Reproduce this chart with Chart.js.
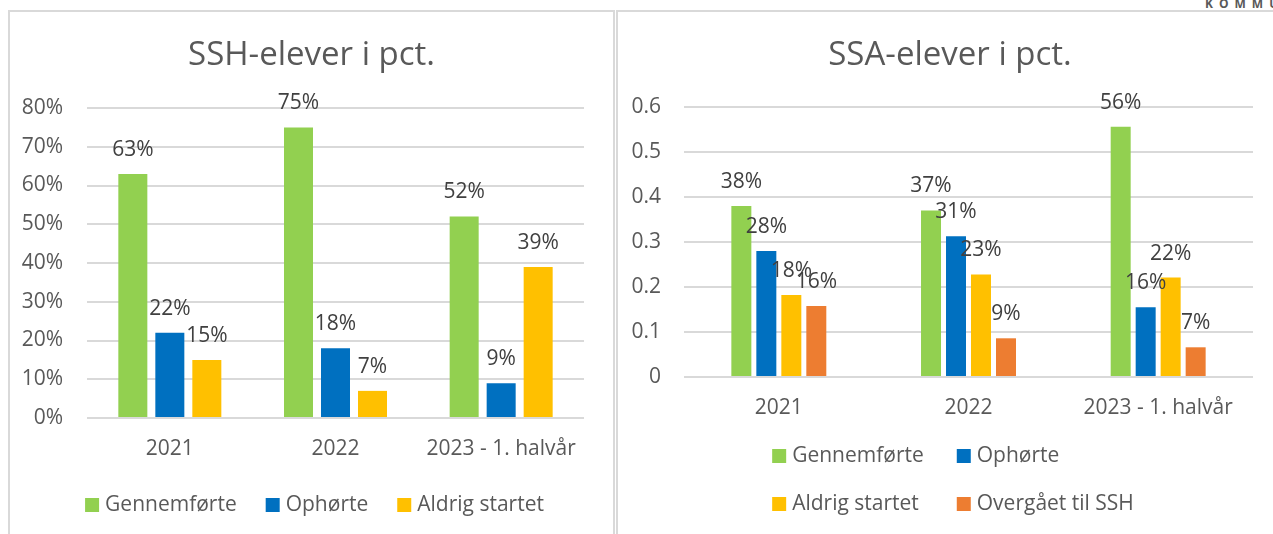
<!DOCTYPE html>
<html>
<head>
<meta charset="utf-8">
<script src="https://cdn.jsdelivr.net/npm/chart.js@4.4.0/dist/chart.umd.min.js"></script>
<style>
    html, body { margin: 0; padding: 0; background: #fff; width: 1273px; height: 534px; overflow: hidden; }
    .card { position: absolute; border: 2px solid #d9d9d9; overflow: hidden; background: #fff; }
    #card1 { left: 8px; top: 10px; width: 603px; height: 530px; }
    #card2 { left: 616px; top: 10px; width: 664px; height: 530px; border-right: none; }
    .logo { position: absolute; left: 1205px; top: -3px; font: bold 12px "Open Sans"; line-height: 13px; letter-spacing: 6px; color: #595959; white-space: nowrap; }
</style>
</head>
<body>
<div class="logo">KOMMU</div>
<div class="card" id="card1"><canvas id="canvas1" width="603" height="522"></canvas></div>
<div class="card" id="card2"><canvas id="canvas2" width="664" height="522"></canvas></div>
<script>
    // data
    const aCategories = ["2021", "2022", "2023 - 1. halvår"];

    // SSH (percent)
    const aSshGennemfoerte = [63, 75, 52];
    const aSshOphoerte = [22, 18, 9];
    const aSshAldrig = [15, 7, 39];
    const aSshTicks = [0, 10, 20, 30, 40, 50, 60, 70, 80];

    // SSA (fraction)
    const aSsaGennemfoerte = [0.38, 0.37, 0.556];
    const aSsaOphoerte = [0.28, 0.313, 0.155];
    const aSsaAldrig = [0.182, 0.228, 0.221];
    const aSsaOvergaaet = [0.158, 0.086, 0.066];
    const aSsaTicks = [0, 0.1, 0.2, 0.3, 0.4, 0.5, 0.6];

    const GREEN = "#92D050", BLUE = "#0070C0", YELLOW = "#FFC000", ORANGE = "#ED7D31";
    const TEXT = "#595959";
    const FONT = "'Open Sans'";
    const SIZE = 21;

    Chart.defaults.font.family = FONT;
    Chart.defaults.color = TEXT;

    // title centred on the whole card (Chart.js title would follow the padding)
    const cardTitle = {
        id: "cardTitle",
        afterDraw: function (chart, args, opts) {
            const ctx = chart.ctx;
            ctx.save();
            ctx.font = "33px " + FONT;
            ctx.fillStyle = TEXT;
            ctx.textAlign = "center";
            ctx.textBaseline = "middle";
            ctx.fillText(opts.text, chart.width / 2, opts.y);
            ctx.restore();
        }
    };

    // value labels above the bars
    const valueLabels = {
        id: "valueLabels",
        afterDatasetsDraw: function (chart, args, opts) {
            const ctx = chart.ctx;
            ctx.save();
            ctx.font = SIZE + "px " + FONT;
            ctx.fillStyle = "#404040";
            ctx.textAlign = "center";
            ctx.textBaseline = "middle";
            chart.data.datasets.forEach(function (ds, i) {
                chart.getDatasetMeta(i).data.forEach(function (bar, j) {
                    ctx.fillText(opts.format(ds.data[j]), bar.x, bar.y - 24);
                });
            });
            ctx.restore();
        }
    };

    // legend in rows / columns like Excel
    const gridLegend = {
        id: "gridLegend",
        afterDraw: function (chart, args, opts) {
            const ctx = chart.ctx;
            const aDs = chart.data.datasets;
            ctx.save();
            ctx.font = SIZE + "px " + FONT;
            let aColW = [];
            opts.rows.forEach(function (aRow) {
                aRow.forEach(function (iDs, c) {
                    let w = 20 + ctx.measureText(aDs[iDs].label).width;
                    aColW[c] = Math.max(aColW[c] || 0, w);
                });
            });
            let iTotal = aColW.reduce((a, b) => a + b, 0) + opts.gap * (aColW.length - 1);
            let x0 = chart.width / 2 + 3 - iTotal / 2;
            ctx.textBaseline = "middle";
            opts.rows.forEach(function (aRow, r) {
                let x = x0;
                let y = chart.chartArea.bottom + opts.top + r * opts.rowHeight;
                aRow.forEach(function (iDs, c) {
                    ctx.fillStyle = aDs[iDs].backgroundColor;
                    ctx.fillRect(x, y - 7, 14, 14);
                    ctx.fillStyle = TEXT;
                    ctx.fillText(aDs[iDs].label, x + 20, y);
                    x += aColW[c] + opts.gap;
                });
            });
            ctx.restore();
        }
    };

    function _scales(aTicks, iYWidth, iTickPad, fnTick) {
        return {
            x: {
                grid: { display: false, drawTicks: false },
                border: { display: false },
                ticks: { font: { size: SIZE }, color: TEXT, padding: 18, maxRotation: 0 },
                afterFit: function (scale) { scale.height = 50; }
            },
            y: {
                min: aTicks[0],
                max: aTicks[aTicks.length - 1],
                border: { display: false },
                grid: { color: "#d9d9d9", lineWidth: 2, drawTicks: false },
                ticks: { stepSize: aTicks[1] - aTicks[0], font: { size: SIZE }, color: TEXT, padding: iTickPad, callback: fnTick },
                afterFit: function (scale) { scale.width = iYWidth; }
            }
        };
    }

    // SSH chart
    new Chart(document.getElementById("canvas1").getContext("2d"), {
        type: "bar",
        plugins: [cardTitle, valueLabels, gridLegend],
        data: {
            labels: aCategories,
            datasets: [
                { label: "Gennemførte", data: aSshGennemfoerte, backgroundColor: GREEN },
                { label: "Ophørte", data: aSshOphoerte, backgroundColor: BLUE },
                { label: "Aldrig startet", data: aSshAldrig, backgroundColor: YELLOW }
            ]
        },
        options: {
            responsive: false,
            animation: false,
            categoryPercentage: 0.67,
            barPercentage: 0.784,
            layout: { padding: { left: 0, right: 29, top: 96, bottom: 66 } },
            plugins: {
                legend: { display: false },
                tooltip: { enabled: false },
                cardTitle: { text: "SSH-elever i pct.", y: 44 },
                valueLabels: { format: function (v) { return Math.round(v) + "%"; } },
                gridLegend: { rows: [[0, 1, 2]], top: 87, rowHeight: 48, gap: 29 }
            },
            scales: _scales(aSshTicks, 77, 24, function (v) { return v + "%"; })
        }
    });

    // SSA chart
    new Chart(document.getElementById("canvas2").getContext("2d"), {
        type: "bar",
        plugins: [cardTitle, valueLabels, gridLegend],
        data: {
            labels: aCategories,
            datasets: [
                { label: "Gennemførte", data: aSsaGennemfoerte, backgroundColor: GREEN },
                { label: "Ophørte", data: aSsaOphoerte, backgroundColor: BLUE },
                { label: "Aldrig startet", data: aSsaAldrig, backgroundColor: YELLOW },
                { label: "Overgået til SSH", data: aSsaOvergaaet, backgroundColor: ORANGE }
            ]
        },
        options: {
            responsive: false,
            animation: false,
            categoryPercentage: 0.527,
            barPercentage: 0.8,
            layout: { padding: { left: 0, right: 29, top: 95, bottom: 107 } },
            plugins: {
                legend: { display: false },
                tooltip: { enabled: false },
                cardTitle: { text: "SSA-elever i pct.", y: 44 },
                valueLabels: { format: function (v) { return Math.round(v * 100) + "%"; } },
                gridLegend: { rows: [[0, 1], [2, 3]], top: 79, rowHeight: 48, gap: 33 }
            },
            scales: _scales(aSsaTicks, 66, 23, function (v) { return v === 0 ? "0" : v.toFixed(1); })
        }
    });
</script>
</body>
</html>
